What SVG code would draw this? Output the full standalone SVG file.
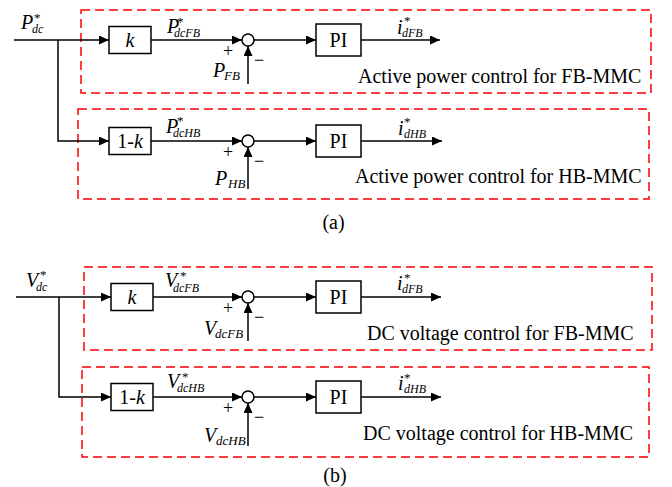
<svg xmlns="http://www.w3.org/2000/svg" width="672" height="487" viewBox="0 0 672 487">
<defs>
<style>
.ln{stroke:#000;stroke-width:1.5;fill:none}
.blk{stroke:#000;stroke-width:1.5;fill:#fff}
.dash{stroke:#ff0000;stroke-width:1.5;fill:none;stroke-dasharray:9 5}
text{font-family:"Liberation Serif","Times New Roman",serif;fill:#000}
.m{font-size:20px;font-style:italic}
.sb{font-size:12px;font-style:italic}
.sb2{font-size:13px;font-style:italic}
.st{font-size:13px;font-style:normal}
.bt{font-size:20px;text-anchor:middle}
.ds{font-size:20px}
.sg{font-size:18px;text-anchor:middle}
</style>
<marker id="ah" markerWidth="10" markerHeight="9" refX="10" refY="4.5" orient="auto" markerUnits="userSpaceOnUse"><path d="M0,0 L10,4.5 L0,9 z" fill="#000"/></marker>
</defs>
<rect width="672" height="487" fill="#fff"/>

<g id="frames">
<rect class="dash" x="81" y="10" width="570" height="83"/>
<rect class="dash" x="78" y="109" width="571" height="90"/>
<rect class="dash" x="84" y="267" width="568" height="83"/>
<rect class="dash" x="82" y="367" width="567" height="90"/>
</g>

<g id="connectors" class="ln" marker-end="url(#ah)">
<path d="M14,40 H109"/>
<path d="M58,40 V141 H109"/>
<path d="M151,40 H242"/>
<path d="M248,84 V46"/>
<path d="M254,40 H316"/>
<path d="M361,40 H440"/>
<path d="M151,141 H242"/>
<path d="M248,189 V147"/>
<path d="M254,141 H316"/>
<path d="M361,141 H442"/>
<path d="M16,297 H111"/>
<path d="M59,297 V397 H111"/>
<path d="M153,297 H242"/>
<path d="M248,341 V303"/>
<path d="M254,297 H316"/>
<path d="M361,297 H441"/>
<path d="M153,397 H242"/>
<path d="M248,446 V403"/>
<path d="M254,397 H316"/>
<path d="M361,397 H441"/>
</g>

<g id="a-k"><rect class="blk" x="109" y="26.5" width="42" height="27"/><text class="m" x="130" y="47" text-anchor="middle">k</text></g>
<g id="a-sum1"><circle class="blk" cx="248" cy="40" r="6"/><text class="sg" x="228" y="57">+</text><text class="sg" x="259" y="66">−</text></g>
<g id="a-pi1"><rect class="blk" x="316" y="24" width="45" height="32"/><text class="bt" x="338.5" y="47">PI</text></g>
<g id="a-1k"><rect class="blk" x="109" y="127.5" width="42" height="27"/><text x="130" y="148" text-anchor="middle" style="font-size:20px">1-<tspan font-style="italic">k</tspan></text></g>
<g id="a-sum2"><circle class="blk" cx="248" cy="141" r="6"/><text class="sg" x="228" y="158">+</text><text class="sg" x="259" y="167">−</text></g>
<g id="a-pi2"><rect class="blk" x="316" y="125" width="45" height="32"/><text class="bt" x="338.5" y="148">PI</text></g>

<g id="b-k"><rect class="blk" x="111" y="283.5" width="42" height="27"/><text class="m" x="132" y="304" text-anchor="middle">k</text></g>
<g id="b-sum1"><circle class="blk" cx="248" cy="297" r="6"/><text class="sg" x="228" y="314">+</text><text class="sg" x="259" y="323">−</text></g>
<g id="b-pi1"><rect class="blk" x="316" y="281" width="45" height="32"/><text class="bt" x="338.5" y="304">PI</text></g>
<g id="b-1k"><rect class="blk" x="111" y="383.5" width="42" height="27"/><text x="132" y="404" text-anchor="middle" style="font-size:20px">1-<tspan font-style="italic">k</tspan></text></g>
<g id="b-sum2"><circle class="blk" cx="248" cy="397" r="6"/><text class="sg" x="228" y="414">+</text><text class="sg" x="259" y="423">−</text></g>
<g id="b-pi2"><rect class="blk" x="316" y="381" width="45" height="32"/><text class="bt" x="338.5" y="404">PI</text></g>

<g id="labels">
<text class="m" x="21" y="29">P<tspan class="st" x="34" y="22">*</tspan><tspan class="sb" x="32" y="33">dc</tspan></text>
<text class="m" x="167" y="33">P<tspan class="st" x="177" y="26">*</tspan><tspan class="sb" x="174" y="37">dcFB</tspan></text>
<text class="m" x="213" y="77">P<tspan class="sb2" x="224" y="80">FB</tspan></text>
<text class="m" x="397" y="34">i<tspan class="st" x="404" y="25">*</tspan><tspan class="sb" x="402" y="37">dFB</tspan></text>
<text class="ds" x="358" y="83">Active power control for FB-MMC</text>

<text class="m" x="166" y="133">P<tspan class="st" x="177" y="125">*</tspan><tspan class="sb" x="173" y="137">dcHB</tspan></text>
<text class="m" x="215" y="185">P<tspan class="sb2" x="228" y="188">HB</tspan></text>
<text class="m" x="398" y="135">i<tspan class="st" x="404" y="126">*</tspan><tspan class="sb" x="404" y="138">dHB</tspan></text>
<text class="ds" x="355" y="183">Active power control for HB-MMC</text>
<text class="ds" x="333.5" y="229" text-anchor="middle">(a)</text>

<text class="m" x="26" y="287">V<tspan class="st" x="40" y="279">*</tspan><tspan class="sb" x="36" y="291">dc</tspan></text>
<text class="m" x="165" y="287">V<tspan class="st" x="180" y="280">*</tspan><tspan class="sb" x="173" y="292">dcFB</tspan></text>
<text class="m" x="204" y="335">V<tspan class="sb2" x="215" y="338">dcFB</tspan></text>
<text class="m" x="397" y="290">i<tspan class="st" x="404" y="282">*</tspan><tspan class="sb" x="402" y="293">dFB</tspan></text>
<text class="ds" x="367" y="340">DC voltage control for FB-MMC</text>

<text class="m" x="167" y="388">V<tspan class="st" x="182" y="381">*</tspan><tspan class="sb" x="177" y="392">dcHB</tspan></text>
<text class="m" x="204" y="442">V<tspan class="sb2" x="216" y="445">dcHB</tspan></text>
<text class="m" x="398" y="390">i<tspan class="st" x="404" y="382">*</tspan><tspan class="sb" x="404" y="393">dHB</tspan></text>
<text class="ds" x="363" y="440">DC voltage control for HB-MMC</text>
<text class="ds" x="335" y="482" text-anchor="middle">(b)</text>
</g>
</svg>
